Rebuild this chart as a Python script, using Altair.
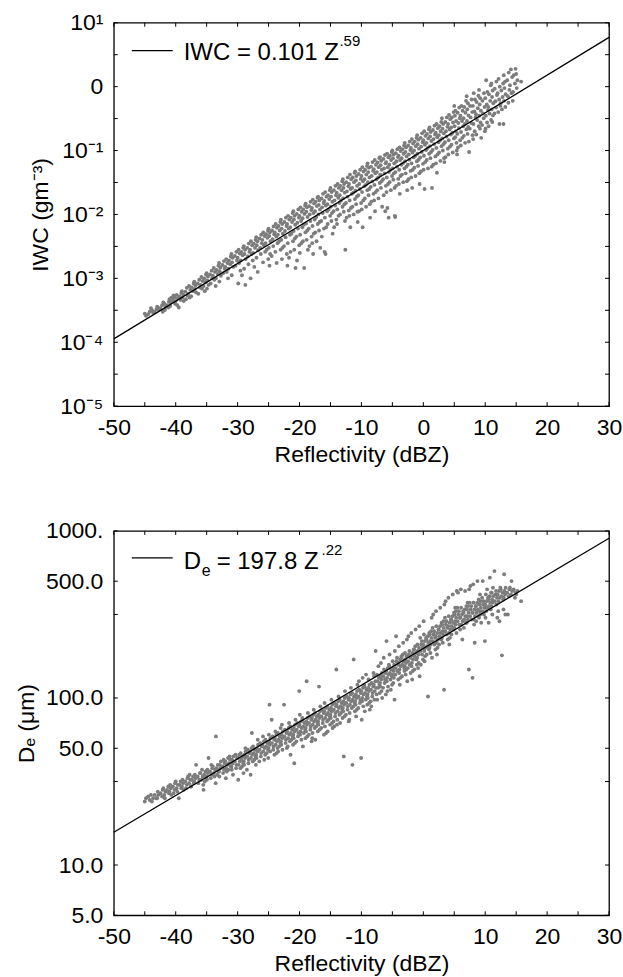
import math
import altair as alt
import pandas as pd

FONT = "Liberation Sans"
W = 496
H_TOP = 384
H_BOT = 385

# ---------------- data ----------------
# Top panel: reflectivity (dBZ) and IWC (g m^-3)
iwc_dbz = [
    -45.0, -44.8,
    -44.2, -44.45,
    -43.85, -43.65, -44.0,
    -43.1, -43.4,
    -43.0, -42.8, -42.9,
    -42.2, -42.45, -42.1,
    -41.85, -41.65, -42.0, -41.75,
    -41.1, -41.4, -41.2,
    -41.0, -40.8, -40.9, -40.7,
    -40.2, -40.45, -40.1, -40.35,
    -39.85, -39.65, -40.0, -39.75,
    -39.1, -39.4, -39.2, -39.5,
    -39.0, -38.8, -38.9, -38.7,
    -38.2, -38.45, -38.1, -38.35,
    -37.85, -37.65, -38.0, -37.75,
    -37.1, -37.4, -37.2, -37.5,
    -37.0, -36.8, -36.9, -36.7,
    -36.2, -36.45, -36.1, -36.35,
    -35.85, -35.65, -36.0, -35.75,
    -35.1, -35.4, -35.2, -35.5, -35.3,
    -35.0, -34.8, -34.9, -34.7, -34.95,
    -34.2, -34.45, -34.1, -34.35,
    -33.85, -33.65, -34.0, -33.75, -33.55,
    -33.1, -33.4, -33.2, -33.5,
    -33.0, -32.8, -32.9, -32.7, -32.95,
    -32.2, -32.45, -32.1, -32.35,
    -31.85, -31.65, -32.0, -31.75, -31.55,
    -31.1, -31.4, -31.2, -31.5,
    -31.0, -30.8, -30.9, -30.7, -30.95,
    -30.2, -30.45, -30.1, -30.35,
    -29.85, -29.65, -30.0, -29.75, -29.55, -29.9,
    -29.1, -29.4, -29.2, -29.5, -29.3,
    -29.0, -28.8, -28.9, -28.7, -28.95, -28.75,
    -28.2, -28.45, -28.1, -28.35, -28.25,
    -27.85, -27.65, -28.0, -27.75, -27.55, -27.9,
    -27.1, -27.4, -27.2, -27.5, -27.3,
    -27.0, -26.8, -26.9, -26.7, -26.95, -26.75,
    -26.2, -26.45, -26.1, -26.35, -26.25,
    -25.85, -25.65, -26.0, -25.75, -25.55, -25.9,
    -25.1, -25.4, -25.2, -25.5, -25.3, -25.05,
    -25.0, -24.8, -24.9, -24.7, -24.95, -24.75, -24.85,
    -24.2, -24.45, -24.1, -24.35, -24.25, -24.5,
    -23.85, -23.65, -24.0, -23.75, -23.55, -23.9, -23.7,
    -23.1, -23.4, -23.2, -23.5, -23.3, -23.05,
    -23.0, -22.8, -22.9, -22.7, -22.95, -22.75, -22.85,
    -22.2, -22.45, -22.1, -22.35, -22.25, -22.5, -22.05,
    -21.85, -21.65, -22.0, -21.75, -21.55, -21.9, -21.7, -21.95,
    -21.1, -21.4, -21.2, -21.5, -21.3, -21.05, -21.45,
    -21.0, -20.8, -20.9, -20.7, -20.95, -20.75, -20.85, -20.65,
    -20.2, -20.45, -20.1, -20.35, -20.25, -20.5, -20.05, -20.4,
    -19.85, -19.65, -20.0, -19.75, -19.55, -19.9, -19.7, -19.95,
    -19.1, -19.4, -19.2, -19.5, -19.3, -19.05, -19.45, -19.25,
    -19.0, -18.8, -18.9, -18.7, -18.95, -18.75, -18.85, -18.65,
    -18.2, -18.45, -18.1, -18.35, -18.25, -18.5, -18.05, -18.4,
    -17.85, -17.65, -18.0, -17.75, -17.55, -17.9, -17.7, -17.95, -17.8,
    -17.1, -17.4, -17.2, -17.5, -17.3, -17.05, -17.45, -17.25,
    -17.0, -16.8, -16.9, -16.7, -16.95, -16.75, -16.85, -16.65,
    -16.2, -16.45, -16.1, -16.35, -16.25, -16.5, -16.05, -16.4,
    -15.85, -15.65, -16.0, -15.75, -15.55, -15.9, -15.7, -15.95, -15.8,
    -15.1, -15.4, -15.2, -15.5, -15.3, -15.05, -15.45,
    -15.0, -14.8, -14.9, -14.7, -14.95, -14.75, -14.85, -14.65,
    -14.2, -14.45, -14.1, -14.35, -14.25, -14.5, -14.05, -14.4,
    -13.85, -13.65, -14.0, -13.75, -13.55, -13.9, -13.7, -13.95,
    -13.1, -13.4, -13.2, -13.5, -13.3, -13.05, -13.45,
    -13.0, -12.8, -12.9, -12.7, -12.95, -12.75, -12.85, -12.65, -12.6,
    -12.2, -12.45, -12.1, -12.35, -12.25, -12.5, -12.05, -12.4,
    -11.85, -11.65, -12.0, -11.75, -11.55, -11.9, -11.7, -11.95, -11.8,
    -11.1, -11.4, -11.2, -11.5, -11.3, -11.05, -11.45, -11.25,
    -11.0, -10.8, -10.9, -10.7, -10.95, -10.75, -10.85, -10.65, -10.6,
    -10.2, -10.45, -10.1, -10.35, -10.25, -10.5, -10.05, -10.4,
    -9.85, -9.65, -10.0, -9.75, -9.55, -9.9, -9.7, -9.95, -9.8,
    -9.1, -9.4, -9.2, -9.5, -9.3, -9.05, -9.45, -9.25,
    -9.0, -8.8, -8.9, -8.7, -8.95, -8.75, -8.85, -8.65, -8.6,
    -8.2, -8.45, -8.1, -8.35, -8.25, -8.5, -8.05, -8.4,
    -7.85, -7.65, -8.0, -7.75, -7.55, -7.9, -7.7, -7.95, -7.8,
    -7.1, -7.4, -7.2, -7.5, -7.3, -7.05, -7.45, -7.25,
    -7.0, -6.8, -6.9, -6.7, -6.95, -6.75, -6.85, -6.65,
    -6.2, -6.45, -6.1, -6.35, -6.25, -6.5, -6.05, -6.4, -6.15,
    -5.85, -5.65, -6.0, -5.75, -5.55, -5.9, -5.7, -5.95, -5.8, -5.6,
    -5.1, -5.4, -5.2, -5.5, -5.3, -5.05, -5.45, -5.25,
    -5.0, -4.8, -4.9, -4.7, -4.95, -4.75, -4.85, -4.65, -4.6, -4.55,
    -4.2, -4.45, -4.1, -4.35, -4.25, -4.5, -4.05, -4.4,
    -3.85, -3.65, -4.0, -3.75, -3.55, -3.9, -3.7, -3.95, -3.8,
    -3.1, -3.4, -3.2, -3.5, -3.3, -3.05, -3.45, -3.25,
    -3.0, -2.8, -2.9, -2.7, -2.95, -2.75, -2.85, -2.65, -2.6,
    -2.2, -2.45, -2.1, -2.35, -2.25, -2.5, -2.05, -2.4,
    -1.85, -1.65, -2.0, -1.75, -1.55, -1.9, -1.7, -1.95, -1.8,
    -1.1, -1.4, -1.2, -1.5, -1.3, -1.05, -1.45, -1.25,
    -1.0, -0.8, -0.9, -0.7, -0.95, -0.75, -0.85, -0.65, -0.6,
    -0.2, -0.45, -0.1, -0.35, -0.25, -0.5, -0.05, -0.4,
    0.15, 0.35, 0.0, 0.25, 0.45, 0.1, 0.3, 0.05, 0.2,
    0.9, 0.6, 0.8, 0.5, 0.7, 0.95, 0.55, 0.75,
    1.0, 1.2, 1.1, 1.3, 1.05, 1.25, 1.15, 1.35, 1.4,
    1.8, 1.55, 1.9, 1.65, 1.75, 1.5, 1.95, 1.6,
    2.15, 2.35, 2.0, 2.25, 2.45, 2.1, 2.3, 2.05, 2.2,
    2.9, 2.6, 2.8, 2.5, 2.7, 2.95, 2.55, 2.75,
    3.0, 3.2, 3.1, 3.3, 3.05, 3.25, 3.15, 3.35, 3.4,
    3.8, 3.55, 3.9, 3.65, 3.75, 3.5, 3.95, 3.6,
    4.15, 4.35, 4.0, 4.25, 4.45, 4.1, 4.3, 4.05,
    4.9, 4.6, 4.8, 4.5, 4.7, 4.95, 4.55, 4.75,
    5.0, 5.2, 5.1, 5.3, 5.05, 5.25, 5.15, 5.35, 5.4, 5.45,
    5.8, 5.55, 5.9, 5.65, 5.75, 5.5, 5.95, 5.6,
    6.15, 6.35, 6.0, 6.25, 6.45, 6.1, 6.3, 6.05,
    6.9, 6.6, 6.8, 6.5, 6.7, 6.95, 6.55, 6.75,
    7.0, 7.2, 7.1, 7.3, 7.05, 7.25, 7.15, 7.35, 7.4,
    7.8, 7.55, 7.9, 7.65, 7.75, 7.5, 7.95,
    8.15, 8.35, 8.0, 8.25, 8.45, 8.1, 8.3, 8.05,
    8.9, 8.6, 8.8, 8.5, 8.7, 8.95, 8.55,
    9.0, 9.2, 9.1, 9.3, 9.05, 9.25, 9.15, 9.35,
    9.8, 9.55, 9.9, 9.65, 9.75, 9.5, 9.95,
    10.15, 10.35, 10.0, 10.25, 10.45, 10.1, 10.3, 10.05,
    10.9, 10.6, 10.8, 10.5, 10.7, 10.95, 10.55,
    11.0, 11.2, 11.1, 11.3, 11.05, 11.25, 11.15,
    11.8, 11.55, 11.9, 11.65, 11.75, 11.5,
    12.15, 12.35, 12.0, 12.25, 12.45, 12.1, 12.3,
    12.9, 12.6, 12.8, 12.5, 12.7, 12.95,
    13.0, 13.2, 13.1, 13.3, 13.05, 13.25,
    13.8, 13.55, 13.9, 13.65, 13.75,
    14.15, 14.35, 14.0, 14.25, 14.45,
    14.9, 14.6, 14.8, 14.5,
    15.0, 15.2, 15.1,
    15.8,
]
iwc_gm3 = [
    2.8e-4, 2.6e-4,
    3.0e-4, 2.75e-4,
    3.2e-4, 2.9e-4, 3.4e-4,
    3.3e-4, 3.0e-4,
    3.6e-4, 3.2e-4, 3.5e-4,
    3.8e-4, 3.4e-4, 3.0e-4,
    4.0e-4, 3.55e-4, 4.2e-4, 3.2e-4,
    4.3e-4, 3.8e-4, 3.5e-4,
    4.7e-4, 4.2e-4, 3.7e-4, 5.0e-4,
    5.0e-4, 4.5e-4, 4.0e-4, 5.4e-4,
    5.5e-4, 4.9e-4, 4.4e-4, 3.8e-4,
    5.9e-4, 5.2e-4, 4.6e-4, 3.5e-4,
    6.3e-4, 5.6e-4, 5.0e-4, 4.4e-4,
    7.1e-4, 6.2e-4, 5.4e-4, 4.7e-4,
    7.6e-4, 6.6e-4, 5.75e-4, 5.0e-4,
    8.3e-4, 7.2e-4, 6.3e-4, 5.25e-4,
    8.9e-4, 7.8e-4, 6.8e-4, 6.0e-4,
    9.5e-4, 8.3e-4, 7.2e-4, 5.75e-4,
    1.05e-3, 9.1e-4, 7.9e-4, 6.9e-4,
    1.15e-3, 1.0e-3, 8.7e-4, 7.6e-4, 6.3e-4,
    1.2e-3, 1.07e-3, 9.3e-4, 7.9e-4, 6.9e-4,
    1.32e-3, 1.15e-3, 1.0e-3, 8.3e-4,
    1.45e-3, 1.26e-3, 1.1e-3, 9.5e-4, 7.6e-4,
    1.58e-3, 1.35e-3, 1.17e-3, 1.0e-3,
    1.74e-3, 1.48e-3, 1.29e-3, 1.1e-3, 8.9e-4,
    1.86e-3, 1.62e-3, 1.41e-3, 1.2e-3,
    2.0e-3, 1.74e-3, 1.51e-3, 1.26e-3, 1.0e-3,
    2.2e-3, 1.9e-3, 1.66e-3, 1.41e-3,
    2.4e-3, 2.1e-3, 1.78e-3, 1.51e-3, 1.12e-3,
    2.6e-3, 2.24e-3, 1.9e-3, 1.58e-3,
    2.8e-3, 2.45e-3, 2.1e-3, 1.74e-3, 1.32e-3, 8.3e-4,
    3.0e-3, 2.6e-3, 2.3e-3, 1.9e-3, 1.12e-3,
    3.2e-3, 2.8e-3, 2.4e-3, 2.0e-3, 1.41e-3, 7.9e-4,
    3.5e-3, 3.0e-3, 2.6e-3, 2.2e-3, 1.66e-3,
    3.8e-3, 3.3e-3, 2.8e-3, 2.4e-3, 1.9e-3, 1.0e-3,
    4.0e-3, 3.5e-3, 3.0e-3, 2.5e-3, 1.51e-3,
    4.4e-3, 3.8e-3, 3.3e-3, 2.75e-3, 2.1e-3, 1.26e-3,
    4.8e-3, 4.2e-3, 3.55e-3, 3.0e-3, 2.4e-3,
    5.25e-3, 4.6e-3, 4.0e-3, 3.3e-3, 2.6e-3, 1.78e-3,
    5.6e-3, 4.9e-3, 4.3e-3, 3.55e-3, 2.8e-3, 2.0e-3,
    6.0e-3, 5.25e-3, 4.6e-3, 3.8e-3, 3.0e-3, 2.4e-3, 1.58e-3,
    6.5e-3, 5.6e-3, 4.9e-3, 4.1e-3, 3.2e-3, 2.24e-3,
    7.1e-3, 6.2e-3, 5.25e-3, 4.5e-3, 3.55e-3, 2.6e-3, 1.74e-3,
    7.6e-3, 6.6e-3, 5.6e-3, 4.8e-3, 3.8e-3, 2.8e-3,
    8.3e-3, 7.1e-3, 6.0e-3, 5.0e-3, 4.0e-3, 3.0e-3, 2.0e-3,
    8.9e-3, 7.6e-3, 6.6e-3, 5.5e-3, 4.4e-3, 3.2e-3, 2.4e-3,
    9.5e-3, 8.3e-3, 7.1e-3, 6.0e-3, 4.8e-3, 3.55e-3, 2.1e-3, 1.58e-3,
    1.05e-2, 8.9e-3, 7.6e-3, 6.3e-3, 5.0e-3, 3.8e-3, 2.6e-3,
    1.12e-2, 9.5e-3, 8.3e-3, 6.9e-3, 5.5e-3, 4.2e-3, 2.8e-3, 1.45e-3,
    1.2e-2, 1.02e-2, 8.9e-3, 7.4e-3, 6.0e-3, 4.5e-3, 3.3e-3, 1.9e-3,
    1.29e-2, 1.1e-2, 9.5e-3, 7.9e-3, 6.3e-3, 4.8e-3, 3.55e-3, 2.5e-3,
    1.38e-2, 1.2e-2, 1.02e-2, 8.7e-3, 6.9e-3, 5.25e-3, 3.8e-3, 1.45e-3,
    1.48e-2, 1.29e-2, 1.1e-2, 9.1e-3, 7.2e-3, 5.6e-3, 4.0e-3, 2.8e-3,
    1.58e-2, 1.35e-2, 1.17e-2, 1.0e-2, 7.9e-3, 6.0e-3, 4.5e-3, 3.2e-3,
    1.7e-2, 1.48e-2, 1.26e-2, 1.05e-2, 8.3e-3, 6.6e-3, 5.0e-3, 3.55e-3, 2.4e-3,
    1.82e-2, 1.58e-2, 1.35e-2, 1.12e-2, 9.1e-3, 7.1e-3, 5.25e-3, 3.8e-3,
    1.9e-2, 1.66e-2, 1.41e-2, 1.2e-2, 1.0e-2, 7.6e-3, 5.6e-3, 3.0e-3,
    2.1e-2, 1.78e-2, 1.51e-2, 1.29e-2, 1.05e-2, 7.9e-3, 6.0e-3, 4.5e-3,
    2.24e-2, 1.9e-2, 1.62e-2, 1.38e-2, 1.12e-2, 8.9e-3, 6.3e-3, 2.6e-3, 2.4e-3,
    2.4e-2, 2.0e-2, 1.74e-2, 1.45e-2, 1.2e-2, 9.5e-3, 7.1e-3,
    2.6e-2, 2.24e-2, 1.9e-2, 1.58e-2, 1.32e-2, 1.05e-2, 7.9e-3, 5.0e-3,
    2.8e-2, 2.4e-2, 2.0e-2, 1.66e-2, 1.38e-2, 1.12e-2, 8.3e-3, 6.3e-3,
    3.0e-2, 2.6e-2, 2.2e-2, 1.82e-2, 1.51e-2, 1.2e-2, 9.5e-3, 7.1e-3,
    3.3e-2, 2.8e-2, 2.4e-2, 2.0e-2, 1.66e-2, 1.32e-2, 1.0e-2,
    3.55e-2, 3.0e-2, 2.6e-2, 2.2e-2, 1.78e-2, 1.45e-2, 1.1e-2, 7.9e-3, 2.8e-3,
    3.8e-2, 3.2e-2, 2.75e-2, 2.3e-2, 1.9e-2, 1.51e-2, 1.15e-2, 8.9e-3,
    4.2e-2, 3.55e-2, 3.0e-2, 2.5e-2, 2.1e-2, 1.66e-2, 1.26e-2, 9.5e-3, 6.3e-3,
    4.5e-2, 3.8e-2, 3.2e-2, 2.6e-2, 2.2e-2, 1.74e-2, 1.32e-2, 1.0e-2,
    4.7e-2, 4.0e-2, 3.4e-2, 2.8e-2, 2.35e-2, 1.9e-2, 1.45e-2, 1.1e-2, 7.6e-3,
    5.0e-2, 4.3e-2, 3.6e-2, 3.0e-2, 2.5e-2, 2.0e-2, 1.51e-2, 1.12e-2,
    5.5e-2, 4.7e-2, 4.0e-2, 3.3e-2, 2.75e-2, 2.24e-2, 1.66e-2, 1.2e-2, 6.3e-3,
    5.75e-2, 5.0e-2, 4.2e-2, 3.55e-2, 2.9e-2, 2.4e-2, 1.78e-2, 1.32e-2,
    6.3e-2, 5.4e-2, 4.6e-2, 3.8e-2, 3.2e-2, 2.5e-2, 2.0e-2, 1.45e-2, 8.9e-3,
    6.6e-2, 5.6e-2, 4.8e-2, 4.0e-2, 3.3e-2, 2.7e-2, 2.1e-2, 1.58e-2,
    7.1e-2, 6.0e-2, 5.1e-2, 4.4e-2, 3.55e-2, 2.9e-2, 2.24e-2, 1.66e-2, 1.12e-2,
    7.6e-2, 6.5e-2, 5.5e-2, 4.6e-2, 3.8e-2, 3.1e-2, 2.4e-2, 1.78e-2,
    7.9e-2, 6.9e-2, 5.9e-2, 5.0e-2, 4.2e-2, 3.3e-2, 2.6e-2, 1.32e-2,
    8.5e-2, 7.4e-2, 6.3e-2, 5.25e-2, 4.4e-2, 3.55e-2, 2.8e-2, 2.0e-2, 1.12e-2,
    8.9e-2, 7.8e-2, 6.6e-2, 5.5e-2, 4.6e-2, 3.8e-2, 3.0e-2, 2.24e-2, 1.26e-2, 8.9e-3,
    9.5e-2, 8.3e-2, 7.1e-2, 6.0e-2, 5.0e-2, 4.0e-2, 3.2e-2, 2.4e-2,
    1.0e-1, 8.7e-2, 7.6e-2, 6.3e-2, 5.25e-2, 4.4e-2, 3.5e-2, 2.6e-2, 9.5e-3, 9.1e-3,
    1.05e-1, 9.1e-2, 7.9e-2, 6.8e-2, 5.6e-2, 4.6e-2, 3.6e-2, 2.8e-2,
    1.12e-1, 9.8e-2, 8.3e-2, 7.1e-2, 6.0e-2, 5.0e-2, 4.0e-2, 3.0e-2, 2.1e-2,
    1.2e-1, 1.05e-1, 8.9e-2, 7.6e-2, 6.3e-2, 5.25e-2, 4.2e-2, 3.2e-2,
    1.32e-1, 1.12e-1, 9.5e-2, 8.1e-2, 6.8e-2, 5.6e-2, 4.4e-2, 3.3e-2, 2.4e-2,
    1.38e-1, 1.2e-1, 1.02e-1, 8.7e-2, 7.2e-2, 6.0e-2, 4.8e-2, 3.55e-2,
    1.51e-1, 1.29e-1, 1.1e-1, 9.3e-2, 7.8e-2, 6.3e-2, 5.0e-2, 3.8e-2, 2.6e-2,
    1.58e-1, 1.38e-1, 1.17e-1, 1.0e-1, 8.3e-2, 6.8e-2, 5.4e-2, 4.0e-2,
    1.74e-1, 1.48e-1, 1.26e-1, 1.07e-1, 8.9e-2, 7.2e-2, 5.75e-2, 4.4e-2, 3.0e-2,
    1.86e-1, 1.58e-1, 1.35e-1, 1.15e-1, 9.5e-2, 7.8e-2, 6.2e-2, 4.7e-2,
    2.0e-1, 1.7e-1, 1.45e-1, 1.23e-1, 1.02e-1, 8.3e-2, 6.6e-2, 5.0e-2, 2.5e-2,
    2.14e-1, 1.82e-1, 1.55e-1, 1.32e-1, 1.1e-1, 8.9e-2, 7.1e-2, 5.25e-2,
    2.3e-1, 1.95e-1, 1.66e-1, 1.41e-1, 1.17e-1, 9.5e-2, 7.6e-2, 5.6e-2, 2.6e-2,
    2.45e-1, 2.1e-1, 1.78e-1, 1.51e-1, 1.26e-1, 1.02e-1, 8.1e-2, 6.0e-2,
    2.6e-1, 2.24e-1, 1.9e-1, 1.62e-1, 1.35e-1, 1.1e-1, 8.7e-2, 6.3e-2, 4.5e-2,
    2.8e-1, 2.4e-1, 2.0e-1, 1.74e-1, 1.45e-1, 1.17e-1, 9.3e-2, 6.9e-2,
    3.2e-1, 2.6e-1, 2.2e-1, 1.86e-1, 1.55e-1, 1.26e-1, 1.0e-1, 7.6e-2, 6.6e-2,
    3.3e-1, 2.8e-1, 2.35e-1, 2.0e-1, 1.66e-1, 1.35e-1, 1.07e-1, 7.9e-2,
    3.6e-1, 3.1e-1, 2.6e-1, 2.14e-1, 1.78e-1, 1.45e-1, 1.15e-1, 8.7e-2,
    4.0e-1, 3.3e-1, 2.75e-1, 2.3e-1, 1.9e-1, 1.55e-1, 1.23e-1, 9.3e-2,
    5.0e-1, 4.2e-1, 3.5e-1, 2.9e-1, 2.4e-1, 2.0e-1, 1.62e-1, 1.32e-1, 1.0e-1, 8.7e-2,
    4.7e-1, 3.9e-1, 3.2e-1, 2.7e-1, 2.24e-1, 1.82e-1, 1.45e-1, 1.12e-1,
    5.0e-1, 4.2e-1, 3.5e-1, 2.9e-1, 2.4e-1, 1.95e-1, 1.58e-1, 1.2e-1,
    6.0e-1, 4.8e-1, 3.9e-1, 3.2e-1, 2.6e-1, 2.14e-1, 1.7e-1, 1.32e-1,
    7.1e-1, 5.5e-1, 4.4e-1, 3.55e-1, 2.9e-1, 2.35e-1, 1.82e-1, 1.38e-1, 9.5e-2,
    6.3e-1, 5.0e-1, 4.0e-1, 3.3e-1, 2.7e-1, 2.2e-1, 1.74e-1,
    7.9e-1, 6.3e-1, 5.0e-1, 4.1e-1, 3.3e-1, 2.6e-1, 2.0e-1, 1.51e-1,
    7.2e-1, 5.75e-1, 4.6e-1, 3.7e-1, 3.0e-1, 2.4e-1, 1.78e-1,
    8.9e-1, 6.6e-1, 5.25e-1, 4.2e-1, 3.5e-1, 2.75e-1, 2.2e-1, 1.58e-1,
    7.9e-1, 6.0e-1, 4.8e-1, 3.8e-1, 3.2e-1, 2.5e-1, 2.0e-1,
    1.26, 8.3e-1, 6.6e-1, 5.25e-1, 4.3e-1, 3.5e-1, 2.75e-1, 2.2e-1,
    1.05, 7.6e-1, 6.0e-1, 4.8e-1, 3.8e-1, 3.0e-1, 2.4e-1,
    1.12, 8.7e-1, 6.9e-1, 5.5e-1, 4.4e-1, 3.55e-1, 2.8e-1,
    1.2, 9.3e-1, 7.4e-1, 5.9e-1, 4.7e-1, 3.8e-1,
    1.32, 1.0, 7.9e-1, 6.3e-1, 5.0e-1, 4.0e-1, 2.6e-1,
    1.12, 8.7e-1, 6.9e-1, 5.5e-1, 4.4e-1, 2.6e-1,
    1.51, 1.2, 9.5e-1, 7.6e-1, 6.0e-1, 4.8e-1,
    1.66, 1.26, 8.9e-1, 7.1e-1, 5.6e-1,
    1.86, 1.41, 1.05, 7.9e-1, 6.0e-1,
    1.9, 1.51, 1.12, 8.3e-1,
    1.58, 1.26, 9.5e-1,
    1.2,
]

# Bottom panel: reflectivity (dBZ) and effective diameter De (micrometres)
de_dbz = [
    -45.0, -44.8,
    -44.2, -44.45,
    -43.85, -43.65, -44.0,
    -43.1, -43.4,
    -43.0, -42.8, -42.9,
    -42.2, -42.45, -42.1,
    -41.85, -41.65, -42.0, -41.75,
    -41.1, -41.4, -41.2,
    -41.0, -40.8, -40.9, -40.7,
    -40.2, -40.45, -40.1, -40.35,
    -39.85, -39.65, -40.0, -39.75,
    -39.1, -39.4, -39.2, -39.5,
    -39.0, -38.8, -38.9, -38.7,
    -38.2, -38.45, -38.1, -38.35,
    -37.85, -37.65, -38.0, -37.75, -37.55,
    -37.1, -37.4, -37.2, -37.5,
    -37.0, -36.8, -36.9, -36.7,
    -36.2, -36.45, -36.1, -36.35,
    -35.85, -35.65, -36.0, -35.75, -35.55,
    -35.1, -35.4, -35.2, -35.5, -35.3,
    -35.0, -34.8, -34.9, -34.7, -34.95,
    -34.2, -34.45, -34.1, -34.35, -34.25,
    -33.85, -33.65, -34.0, -33.75, -33.55,
    -33.1, -33.4, -33.2, -33.5, -33.3,
    -33.0, -32.8, -32.9, -32.7, -32.95,
    -32.2, -32.45, -32.1, -32.35, -32.25,
    -31.85, -31.65, -32.0, -31.75, -31.55, -31.9,
    -31.1, -31.4, -31.2, -31.5, -31.3,
    -31.0, -30.8, -30.9, -30.7, -30.95, -30.75,
    -30.2, -30.45, -30.1, -30.35, -30.25,
    -29.85, -29.65, -30.0, -29.75, -29.55, -29.9,
    -29.1, -29.4, -29.2, -29.5, -29.3, -29.05,
    -29.0, -28.8, -28.9, -28.7, -28.95, -28.75,
    -28.2, -28.45, -28.1, -28.35, -28.25, -28.5,
    -27.85, -27.65, -28.0, -27.75, -27.55, -27.9, -27.7,
    -27.1, -27.4, -27.2, -27.5, -27.3, -27.05,
    -27.0, -26.8, -26.9, -26.7, -26.95, -26.75,
    -26.2, -26.45, -26.1, -26.35, -26.25, -26.5,
    -25.85, -25.65, -26.0, -25.75, -25.55, -25.9, -25.7,
    -25.1, -25.4, -25.2, -25.5, -25.3, -25.05,
    -25.0, -24.8, -24.9, -24.7, -24.95, -24.75, -24.85,
    -24.2, -24.45, -24.1, -24.35, -24.25, -24.5, -24.05,
    -23.85, -23.65, -24.0, -23.75, -23.55, -23.9, -23.7,
    -23.1, -23.4, -23.2, -23.5, -23.3, -23.05, -23.45,
    -23.0, -22.8, -22.9, -22.7, -22.95, -22.75, -22.85,
    -22.2, -22.45, -22.1, -22.35, -22.25, -22.5, -22.05,
    -21.85, -21.65, -22.0, -21.75, -21.55, -21.9, -21.7,
    -21.1, -21.4, -21.2, -21.5, -21.3, -21.05, -21.45,
    -21.0, -20.8, -20.9, -20.7, -20.95, -20.75, -20.85, -20.65,
    -20.2, -20.45, -20.1, -20.35, -20.25, -20.5, -20.05,
    -19.85, -19.65, -20.0, -19.75, -19.55, -19.9, -19.7, -19.95,
    -19.1, -19.4, -19.2, -19.5, -19.3, -19.05, -19.45,
    -19.0, -18.8, -18.9, -18.7, -18.95, -18.75, -18.85, -18.65,
    -18.2, -18.45, -18.1, -18.35, -18.25, -18.5, -18.05,
    -17.85, -17.65, -18.0, -17.75, -17.55, -17.9, -17.7, -17.95,
    -17.1, -17.4, -17.2, -17.5, -17.3, -17.05, -17.45,
    -17.0, -16.8, -16.9, -16.7, -16.95, -16.75, -16.85, -16.65,
    -16.2, -16.45, -16.1, -16.35, -16.25, -16.5, -16.05,
    -15.85, -15.65, -16.0, -15.75, -15.55, -15.9, -15.7, -15.95,
    -15.1, -15.4, -15.2, -15.5, -15.3, -15.05, -15.45,
    -15.0, -14.8, -14.9, -14.7, -14.95, -14.75, -14.85, -14.65,
    -14.2, -14.45, -14.1, -14.35, -14.25, -14.5, -14.05, -14.4,
    -13.85, -13.65, -14.0, -13.75, -13.55, -13.9, -13.7, -13.95,
    -13.1, -13.4, -13.2, -13.5, -13.3, -13.05, -13.45,
    -13.0, -12.8, -12.9, -12.7, -12.95, -12.75, -12.85, -12.65,
    -12.2, -12.45, -12.1, -12.35, -12.25, -12.5, -12.05,
    -11.85, -11.65, -12.0, -11.75, -11.55, -11.9, -11.7, -11.95,
    -11.1, -11.4, -11.2, -11.5, -11.3, -11.05, -11.45, -11.25,
    -11.0, -10.8, -10.9, -10.7, -10.95, -10.75, -10.85, -10.65,
    -10.2, -10.45, -10.1, -10.35, -10.25, -10.5, -10.05, -10.4,
    -9.85, -9.65, -10.0, -9.75, -9.55, -9.9, -9.7, -9.95, -9.8,
    -9.1, -9.4, -9.2, -9.5, -9.3, -9.05, -9.45, -9.25,
    -9.0, -8.8, -8.9, -8.7, -8.95, -8.75, -8.85, -8.65,
    -8.2, -8.45, -8.1, -8.35, -8.25, -8.5, -8.05, -8.4,
    -7.85, -7.65, -8.0, -7.75, -7.55, -7.9, -7.7, -7.95,
    -7.1, -7.4, -7.2, -7.5, -7.3, -7.05, -7.45, -7.25,
    -7.0, -6.8, -6.9, -6.7, -6.95, -6.75, -6.85, -6.65,
    -6.2, -6.45, -6.1, -6.35, -6.25, -6.5, -6.05, -6.4,
    -5.85, -5.65, -6.0, -5.75, -5.55, -5.9, -5.7, -5.95, -5.8,
    -5.1, -5.4, -5.2, -5.5, -5.3, -5.05, -5.45, -5.25,
    -5.0, -4.8, -4.9, -4.7, -4.95, -4.75, -4.85, -4.65, -4.6,
    -4.2, -4.45, -4.1, -4.35, -4.25, -4.5, -4.05, -4.4,
    -3.85, -3.65, -4.0, -3.75, -3.55, -3.9, -3.7, -3.95, -3.8,
    -3.1, -3.4, -3.2, -3.5, -3.3, -3.05, -3.45, -3.25,
    -3.0, -2.8, -2.9, -2.7, -2.95, -2.75, -2.85, -2.65, -2.6,
    -2.2, -2.45, -2.1, -2.35, -2.25, -2.5, -2.05, -2.4,
    -1.85, -1.65, -2.0, -1.75, -1.55, -1.9, -1.7, -1.95, -1.8,
    -1.1, -1.4, -1.2, -1.5, -1.3, -1.05, -1.45, -1.25,
    -1.0, -0.8, -0.9, -0.7, -0.95, -0.75, -0.85, -0.65, -0.6,
    -0.2, -0.45, -0.1, -0.35, -0.25, -0.5, -0.05, -0.4,
    0.15, 0.35, 0.0, 0.25, 0.45, 0.1, 0.3, 0.05, 0.2,
    0.9, 0.6, 0.8, 0.5, 0.7, 0.95, 0.55, 0.75,
    1.0, 1.2, 1.1, 1.3, 1.05, 1.25, 1.15, 1.35, 1.4,
    1.8, 1.55, 1.9, 1.65, 1.75, 1.5, 1.95, 1.6,
    2.15, 2.35, 2.0, 2.25, 2.45, 2.1, 2.3, 2.05, 2.2,
    2.9, 2.6, 2.8, 2.5, 2.7, 2.95, 2.55, 2.75,
    3.0, 3.2, 3.1, 3.3, 3.05, 3.25, 3.15, 3.35, 3.4,
    3.8, 3.55, 3.9, 3.65, 3.75, 3.5, 3.95, 3.6,
    4.15, 4.35, 4.0, 4.25, 4.45, 4.1, 4.3, 4.05, 4.2,
    4.9, 4.6, 4.8, 4.5, 4.7, 4.95, 4.55, 4.75,
    5.0, 5.2, 5.1, 5.3, 5.05, 5.25, 5.15, 5.35, 5.4,
    5.8, 5.55, 5.9, 5.65, 5.75, 5.5, 5.95, 5.6,
    6.15, 6.35, 6.0, 6.25, 6.45, 6.1, 6.3, 6.05,
    6.9, 6.6, 6.8, 6.5, 6.7, 6.95, 6.55, 6.75,
    7.0, 7.2, 7.1, 7.3, 7.05, 7.25, 7.15, 7.35, 7.4,
    7.8, 7.55, 7.9, 7.65, 7.75, 7.5, 7.95, 7.6,
    8.15, 8.35, 8.0, 8.25, 8.45, 8.1, 8.3, 8.05, 8.2,
    8.9, 8.6, 8.8, 8.5, 8.7, 8.95, 8.55, 8.75,
    9.0, 9.2, 9.1, 9.3, 9.05, 9.25, 9.15, 9.35,
    9.8, 9.55, 9.9, 9.65, 9.75, 9.5, 9.95, 9.6,
    10.15, 10.35, 10.0, 10.25, 10.45, 10.1, 10.3, 10.05,
    10.9, 10.6, 10.8, 10.5, 10.7, 10.95, 10.55, 10.75,
    11.0, 11.2, 11.1, 11.3, 11.05, 11.25, 11.15,
    11.8, 11.55, 11.9, 11.65, 11.75, 11.5, 11.95,
    12.15, 12.35, 12.0, 12.25, 12.45, 12.1, 12.3,
    12.9, 12.6, 12.8, 12.5, 12.7, 12.95,
    13.0, 13.2, 13.1, 13.3, 13.05, 13.25,
    13.8, 13.55, 13.9, 13.65,
    14.15, 14.35, 14.0, 14.25,
    14.9, 14.6, 14.8,
    15.0, 15.2,
    15.8,
]
de_um = [
    24.0, 25.1,
    24.5, 25.7,
    24.0, 25.1, 26.3,
    25.1, 26.3,
    25.1, 26.3, 27.5,
    25.7, 26.9, 28.2,
    26.3, 27.5, 28.8, 25.1,
    26.9, 28.2, 29.5,
    27.5, 28.8, 30.2, 26.3,
    28.2, 29.5, 30.9, 26.9,
    28.8, 30.2, 31.6, 27.5,
    28.8, 30.2, 31.6, 25.1,
    29.5, 30.9, 32.4, 28.2,
    30.2, 31.6, 33.1, 28.8,
    30.9, 32.4, 33.9, 34.7, 29.5,
    30.9, 32.4, 33.9, 29.5,
    31.6, 33.1, 34.7, 39.8,
    32.4, 33.9, 35.5, 30.9,
    32.4, 33.9, 35.5, 37.2, 30.2,
    33.1, 34.7, 36.3, 28.2, 31.6,
    33.9, 35.5, 37.2, 43.7, 32.4,
    34.7, 36.3, 38.0, 33.1, 39.8,
    35.5, 37.2, 38.9, 33.9, 30.9,
    36.3, 38.0, 39.8, 58.9, 34.7,
    36.3, 38.0, 39.8, 41.7, 33.9,
    37.2, 38.9, 40.7, 35.5, 42.7,
    38.0, 39.8, 41.7, 36.3, 43.7, 33.1,
    38.9, 40.7, 42.7, 37.2, 44.7,
    38.9, 40.7, 42.7, 44.7, 37.2, 34.7,
    39.8, 41.7, 43.7, 45.7, 38.0,
    39.8, 41.7, 43.7, 45.7, 38.0, 32.4,
    40.7, 42.7, 44.7, 46.8, 38.9, 35.5,
    41.7, 43.7, 45.7, 47.9, 39.8, 50.1,
    42.7, 44.7, 46.8, 49.0, 40.7, 37.2,
    43.7, 45.7, 47.9, 50.1, 41.7, 34.7, 61.7,
    44.7, 46.8, 49.0, 51.3, 42.7, 39.8,
    45.7, 47.9, 50.1, 52.5, 43.7, 56.2,
    46.8, 49.0, 51.3, 53.7, 44.7, 41.7,
    47.9, 50.1, 52.5, 55.0, 45.7, 58.9, 42.7,
    49.0, 51.3, 53.7, 56.2, 46.8, 43.7,
    50.1, 52.5, 55.0, 57.5, 60.3, 47.9, 91.2,
    51.3, 53.7, 56.2, 58.9, 49.0, 74.1, 45.7,
    52.5, 55.0, 57.5, 60.3, 50.1, 63.1, 46.8,
    53.7, 56.2, 58.9, 61.7, 51.3, 66.1, 47.9,
    55.0, 57.5, 60.3, 63.1, 52.5, 49.0, 69.2,
    56.2, 58.9, 61.7, 64.6, 53.7, 91.2, 50.1,
    57.5, 60.3, 63.1, 66.1, 55.0, 51.3, 70.8,
    58.9, 61.7, 64.6, 67.6, 56.2, 52.5, 45.7,
    60.3, 63.1, 66.1, 69.2, 57.5, 53.7, 40.7, 74.1,
    61.7, 64.6, 67.6, 70.8, 58.9, 55.0, 110.0,
    63.1, 66.1, 69.2, 72.4, 75.9, 60.3, 56.2, 79.4,
    64.6, 67.6, 70.8, 74.1, 61.7, 57.5, 51.3,
    66.1, 69.2, 72.4, 75.9, 63.1, 58.9, 126.0, 81.3,
    67.6, 70.8, 74.1, 77.6, 64.6, 60.3, 55.0,
    69.2, 72.4, 75.9, 79.4, 66.1, 61.7, 85.1, 57.5,
    70.8, 74.1, 77.6, 81.3, 67.6, 63.1, 56.2,
    72.4, 75.9, 79.4, 83.2, 69.2, 64.6, 117.0, 89.1,
    74.1, 77.6, 81.3, 85.1, 70.8, 66.1, 60.3,
    75.9, 79.4, 83.2, 87.1, 72.4, 67.6, 61.7, 93.3,
    77.6, 81.3, 85.1, 89.1, 74.1, 69.2, 63.1,
    79.4, 83.2, 87.1, 91.2, 75.9, 70.8, 97.7, 66.1,
    81.3, 85.1, 89.1, 93.3, 77.6, 72.4, 148.0, 67.6,
    83.2, 87.1, 91.2, 95.5, 79.4, 74.1, 102.0, 69.2,
    85.1, 89.1, 93.3, 97.7, 81.3, 75.9, 70.8,
    87.1, 91.2, 95.5, 100.0, 83.2, 77.6, 44.7, 110.0,
    89.1, 93.3, 97.7, 102.0, 85.1, 79.4, 72.4,
    91.2, 95.5, 100.0, 105.0, 87.1, 81.3, 115.0, 74.1,
    93.3, 97.7, 102.0, 107.0, 89.1, 83.2, 39.8, 170.0,
    95.5, 100.0, 105.0, 110.0, 91.2, 85.1, 77.6, 120.0,
    97.7, 102.0, 107.0, 112.0, 93.3, 87.1, 43.7, 126.0,
    100.0, 105.0, 110.0, 115.0, 120.0, 95.5, 89.1, 74.1, 132.0,
    102.0, 107.0, 112.0, 117.0, 97.7, 91.2, 83.2, 138.0,
    105.0, 110.0, 115.0, 120.0, 100.0, 93.3, 129.0, 85.1,
    107.0, 112.0, 117.0, 123.0, 102.0, 95.5, 141.0, 89.1,
    110.0, 115.0, 120.0, 126.0, 105.0, 97.7, 191.0, 135.0,
    120.0, 126.0, 132.0, 138.0, 115.0, 107.0, 97.7, 155.0,
    123.0, 129.0, 135.0, 141.0, 117.0, 110.0, 162.0, 100.0,
    129.0, 135.0, 141.0, 148.0, 123.0, 115.0, 105.0, 174.0,
    132.0, 138.0, 145.0, 151.0, 158.0, 126.0, 117.0, 219.0, 110.0,
    135.0, 141.0, 148.0, 155.0, 129.0, 120.0, 182.0, 112.0,
    138.0, 145.0, 151.0, 158.0, 166.0, 132.0, 123.0, 97.7, 191.0,
    145.0, 151.0, 158.0, 166.0, 174.0, 138.0, 129.0, 234.0,
    148.0, 155.0, 162.0, 170.0, 178.0, 141.0, 132.0, 204.0, 120.0,
    151.0, 158.0, 166.0, 174.0, 182.0, 145.0, 135.0, 214.0,
    155.0, 162.0, 170.0, 178.0, 186.0, 148.0, 138.0, 224.0, 126.0,
    158.0, 166.0, 174.0, 182.0, 191.0, 151.0, 141.0, 234.0,
    162.0, 170.0, 178.0, 186.0, 195.0, 155.0, 145.0, 245.0, 129.0,
    170.0, 178.0, 186.0, 195.0, 204.0, 158.0, 148.0, 257.0,
    174.0, 182.0, 191.0, 200.0, 209.0, 162.0, 151.0, 269.0, 135.0,
    182.0, 191.0, 200.0, 209.0, 219.0, 229.0, 170.0, 158.0,
    191.0, 200.0, 209.0, 219.0, 229.0, 240.0, 178.0, 288.0, 166.0,
    195.0, 204.0, 214.0, 224.0, 234.0, 245.0, 182.0, 102.0,
    200.0, 209.0, 219.0, 229.0, 240.0, 251.0, 186.0, 302.0, 174.0,
    209.0, 219.0, 229.0, 240.0, 251.0, 263.0, 195.0, 316.0,
    214.0, 224.0, 234.0, 245.0, 257.0, 269.0, 200.0, 331.0, 182.0,
    224.0, 234.0, 245.0, 257.0, 269.0, 282.0, 209.0, 347.0,
    229.0, 240.0, 251.0, 263.0, 275.0, 288.0, 214.0, 112.0, 363.0,
    240.0, 251.0, 263.0, 275.0, 288.0, 302.0, 224.0, 380.0,
    245.0, 257.0, 269.0, 282.0, 295.0, 309.0, 229.0, 398.0, 209.0,
    257.0, 269.0, 282.0, 295.0, 309.0, 324.0, 240.0, 417.0,
    263.0, 275.0, 288.0, 302.0, 316.0, 331.0, 347.0, 245.0, 437.0,
    275.0, 288.0, 302.0, 316.0, 331.0, 347.0, 257.0, 427.0,
    275.0, 288.0, 302.0, 316.0, 331.0, 347.0, 224.0, 447.0,
    282.0, 295.0, 309.0, 324.0, 339.0, 355.0, 263.0, 437.0,
    282.0, 295.0, 309.0, 324.0, 339.0, 355.0, 372.0, 148.0, 447.0,
    295.0, 309.0, 324.0, 339.0, 355.0, 372.0, 132.0, 468.0,
    295.0, 309.0, 324.0, 339.0, 355.0, 372.0, 214.0, 479.0, 275.0,
    309.0, 324.0, 339.0, 355.0, 372.0, 389.0, 288.0, 501.0,
    302.0, 316.0, 331.0, 347.0, 363.0, 380.0, 417.0, 282.0,
    316.0, 331.0, 347.0, 363.0, 380.0, 398.0, 219.0, 501.0,
    331.0, 347.0, 363.0, 380.0, 398.0, 417.0, 447.0, 302.0,
    339.0, 355.0, 372.0, 389.0, 407.0, 427.0, 282.0, 525.0,
    355.0, 372.0, 389.0, 407.0, 427.0, 457.0, 316.0,
    363.0, 380.0, 398.0, 417.0, 437.0, 575.0, 302.0,
    380.0, 398.0, 417.0, 437.0, 457.0, 331.0, 288.0,
    389.0, 407.0, 427.0, 447.0, 180.0, 339.0,
    398.0, 417.0, 437.0, 457.0, 550.0, 316.0,
    407.0, 427.0, 447.0, 316.0,
    417.0, 437.0, 457.0, 501.0,
    427.0, 447.0, 398.0,
    417.0, 437.0,
    380.0,
]

# fitted power laws (end points of the drawn lines)
fit_dbz = [-50.0, 30.0]
fit_iwc = [1.13e-4, 5.9]
fit_de = [15.7, 904.0]

# axis ticks and labels
x_tick_values = [-50, -45, -40, -35, -30, -25, -20, -15, -10, -5, 0, 5, 10, 15, 20, 25, 30]
x_label_values = [-50, -40, -30, -20, -10, 0, 10, 20, 30]
iwc_tick_values = [1e-5, 3.162e-5, 1e-4, 3.162e-4, 1e-3, 3.162e-3, 1e-2, 3.162e-2,
                   0.1, 0.3162, 1.0, 3.162, 10.0]
iwc_label_values = [10.0, 1.0, 0.1, 0.01, 0.001, 1e-4, 1e-5]
iwc_label_texts = ["10¹", "0", "10⁻¹", "10⁻²", "10⁻³", "10⁻⁴", "10⁻⁵"]
de_tick_values = [5.0, 10.0, 31.62, 50.0, 100.0, 316.2, 500.0, 1000.0]
de_label_values = [1000.0, 500.0, 100.0, 50.0, 10.0, 5.0]
de_label_texts = ["1000.", "500.0", "100.0", "50.0", "10.0", "5.0"]

# ---------------- helpers ----------------
def log_label_expr(values, texts):
    expr = "''"
    for v, t in reversed(list(zip(values, texts))):
        k = int(round(math.log10(v)))
        expr = f"(round(log(datum.value)/LN10) == {k} ? '{t}' : {expr})"
    return expr


def value_label_expr(values, texts):
    expr = "''"
    for v, t in reversed(list(zip(values, texts))):
        expr = f"(abs(datum.value - {v}) < 1e-6 ? '{t}' : {expr})"
    return expr


def panel(pts_df, fit_df, y_domain, y_title, y_tick_values, y_label_values, y_label_expr,
          x_label_expr, H, legend_layers, bottom_anchor):
    xs = alt.Scale(domain=[-50, 30], nice=False, zero=False)
    ys = alt.Scale(type="log", domain=y_domain, nice=False)
    xaxis = alt.Axis(values=x_label_values, labelExpr=x_label_expr,
                     title="Reflectivity (dBZ)", titlePadding=4, labelPadding=10,
                     ticks=False, tickSize=0, domain=False, grid=False, labelFlush=False)
    yaxis = alt.Axis(values=y_label_values, labelExpr=y_label_expr, title=y_title,
                     titlePadding=7, labelPadding=11, ticks=False, tickSize=0,
                     domain=False, grid=False, labelFlush=False)

    X = lambda: alt.X("dbz:Q", scale=xs, axis=xaxis)
    Y = lambda: alt.Y("val:Q", scale=ys, axis=yaxis)

    pts = alt.Chart(pts_df).mark_circle(size=15, color="#7c7c7c", opacity=1).encode(x=X(), y=Y())
    fit = alt.Chart(fit_df).mark_line(color="black", strokeWidth=1.3).encode(x=X(), y=Y())

    xt = alt.Chart(pd.DataFrame({"dbz": x_tick_values}))
    yt = alt.Chart(pd.DataFrame({"val": y_tick_values}))
    tick_b = xt.mark_rule(color="black", strokeWidth=1).encode(x=X(), y=alt.value(H), y2=alt.value(H - 4))
    tick_t = xt.mark_rule(color="black", strokeWidth=1).encode(x=X(), y=alt.value(0), y2=alt.value(4))
    tick_l = yt.mark_rule(color="black", strokeWidth=1).encode(y=Y(), x=alt.value(0), x2=alt.value(4))
    tick_r = yt.mark_rule(color="black", strokeWidth=1).encode(y=Y(), x=alt.value(W), x2=alt.value(W - 4))

    one = alt.Chart(pd.DataFrame({"k": [0]}))
    anchors = [one.mark_rule(color="white", strokeWidth=1).encode(
        x=alt.value(-112), x2=alt.value(-111), y=alt.value(-20))]
    if bottom_anchor is not None:
        anchors.append(one.mark_rule(color="white", strokeWidth=1).encode(
            x=alt.value(-112), x2=alt.value(-111), y=alt.value(bottom_anchor)))

    layers = [pts, fit, tick_b, tick_t, tick_l, tick_r] + legend_layers + anchors
    return alt.layer(*layers).properties(width=W, height=H)


one = alt.Chart(pd.DataFrame({"k": [0]}))
txt = dict(font=FONT, color="black", align="left", baseline="middle")

legend_top = [
    one.mark_rule(color="black", strokeWidth=1.2).encode(x=alt.value(18), x2=alt.value(59), y=alt.value(28)),
    one.mark_text(text="IWC = 0.101 Z", fontSize=24, **txt).encode(x=alt.value(70), y=alt.value(30)),
    one.mark_text(text=".59", fontSize=15, **txt).encode(x=alt.value(226), y=alt.value(18)),
]
legend_bot = [
    one.mark_rule(color="black", strokeWidth=1.2).encode(x=alt.value(18), x2=alt.value(59), y=alt.value(27)),
    one.mark_text(text="D", fontSize=24, **txt).encode(x=alt.value(70), y=alt.value(31)),
    one.mark_text(text="e", fontSize=16, **txt).encode(x=alt.value(88), y=alt.value(40)),
    one.mark_text(text="= 197.8 Z", fontSize=24, **txt).encode(x=alt.value(103), y=alt.value(31)),
    one.mark_text(text=".22", fontSize=15, **txt).encode(x=alt.value(208), y=alt.value(19)),
]

top_pts = pd.DataFrame({"dbz": iwc_dbz, "val": iwc_gm3})
top_fit = pd.DataFrame({"dbz": fit_dbz, "val": fit_iwc})
bot_pts = pd.DataFrame({"dbz": de_dbz, "val": de_um})
bot_fit = pd.DataFrame({"dbz": fit_dbz, "val": fit_de})

top = panel(top_pts, top_fit, [1e-5, 10], "IWC (gm⁻³)", iwc_tick_values, iwc_label_values,
            log_label_expr(iwc_label_values, iwc_label_texts), "'' + datum.value",
            H_TOP, legend_top, H_TOP + 101)
bottom = panel(bot_pts, bot_fit, [5, 1000], "Dₑ (μm)", de_tick_values, de_label_values,
               value_label_expr(de_label_values, de_label_texts),
               "datum.value == 0 ? '' : '' + datum.value",
               H_BOT, legend_bot, None)

chart = alt.vconcat(top, bottom, spacing=0).properties(
    padding=0, background="white"
).configure_view(
    stroke="black", strokeWidth=1.3
).configure_axis(
    labelFont=FONT, labelFontSize=23, labelColor="black",
    titleFont=FONT, titleFontSize=23, titleColor="black", titleFontWeight="normal"
)

chart.save("out.html", embed_options={"renderer": "svg", "actions": False})
